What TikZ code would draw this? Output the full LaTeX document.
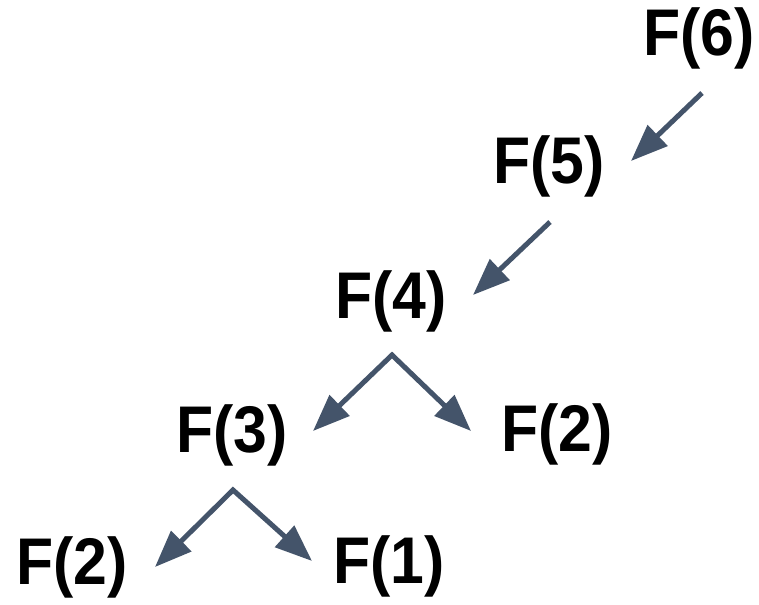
\documentclass[tikz,border=0pt]{standalone}
\usepackage{fontspec}
\setmainfont{Liberation Sans}
\usetikzlibrary{arrows.meta}
\definecolor{slate}{HTML}{44546A}
\tikzset{
  lbl/.style={inner sep=0pt, xscale=0.92, font=\fontsize{66}{66}\selectfont\bfseries},
  arr/.style={draw=slate, line width=5pt, -{Triangle[length=37pt,width=28pt]}},
  fork/.style={draw=slate, line width=5pt, line join=miter, {Triangle[length=37pt,width=28pt]}-{Triangle[length=37pt,width=28pt]}}
}
\begin{document}
\begin{tikzpicture}[x=1pt,y=-1pt]
\useasboundingbox (0,0) rectangle (759,604);
\node[lbl] (f6) at (699,38) {F(6)};
\node[lbl] (f5) at (549,166) {F(5)};
\node[lbl] (f4) at (391,301) {F(4)};
\node[lbl] (f3) at (232,435) {F(3)};
\node[lbl] (f2r) at (557,434) {F(2)};
\node[lbl] (f2l) at (72,567) {F(2)};
\node[lbl] (f1) at (389,566) {F(1)};
\coordinate (s65) at (702,93);
\coordinate (e65) at (631,161);
\coordinate (s54) at (550,222);
\coordinate (e54) at (473,295);
\coordinate (a4) at (392,355);
\coordinate (e43) at (313,431);
\coordinate (e42) at (471,431);
\coordinate (a3) at (233,490);
\coordinate (e32) at (155,567);
\coordinate (e31) at (312,561);
\draw[arr] (s65) -- (e65);
\draw[arr] (s54) -- (e54);
\draw[fork] (e43) -- (a4) -- (e42);
\draw[fork] (e32) -- (a3) -- (e31);
\end{tikzpicture}
\end{document}
